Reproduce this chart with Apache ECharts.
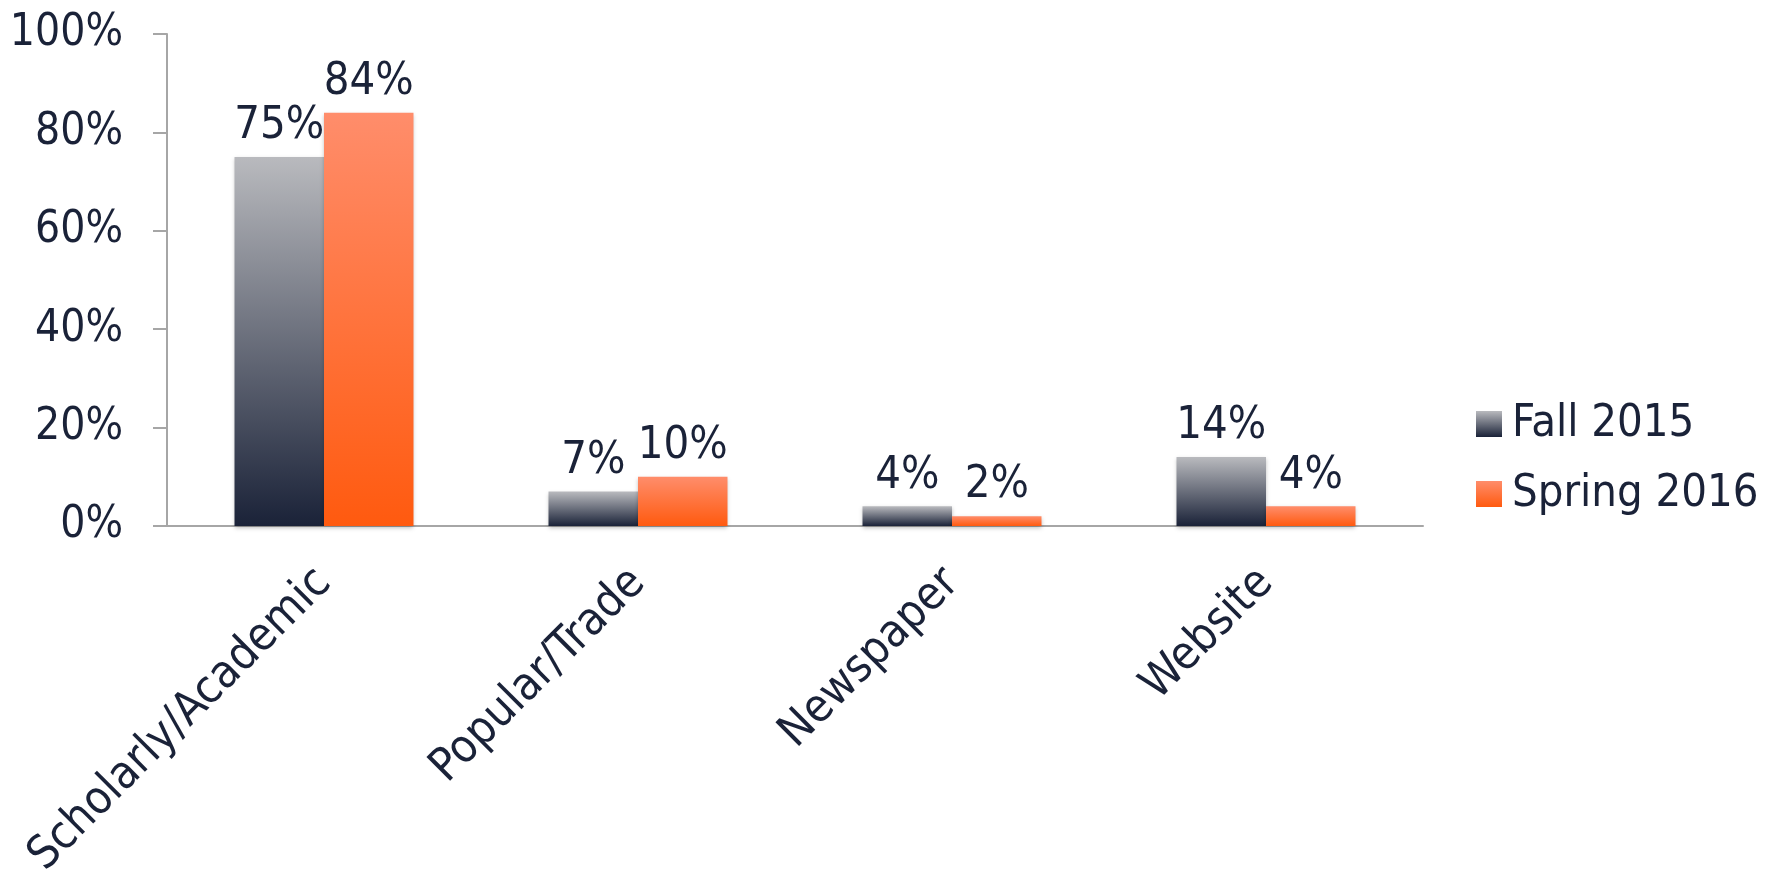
<!DOCTYPE html>
<html>
<head>
<meta charset="utf-8">
<script src="https://cdn.jsdelivr.net/npm/echarts@6/dist/echarts.min.js"></script>
<style>
html,body{margin:0;padding:0;background:#fff}
#chart{width:1776px;height:888px}
</style>
</head>
<body>
<div id="chart"></div>
<script>
//source types by semester
var categories = ['Scholarly/Academic', 'Popular/Trade', 'Newspaper', 'Website'];
var fall2015 = [75, 7, 4, 14];
var spring2016 = [84, 10, 2, 4];
var yTicks = [0, 20, 40, 60, 80, 100];

var txt = '#1a2238';
var font = '"Liberation Sans Narrow", "DejaVu Sans Condensed", sans-serif';

function grad(top, bottom) {
	return new echarts.graphic.LinearGradient(0, 0, 0, 1, [
		{ offset: 0, color: top },
		{ offset: 1, color: bottom }
	]);
}

var chart = echarts.init(document.getElementById('chart'));
var option = {
	animation: false,
	textStyle: { fontFamily: font, color: txt },
	grid: { left: 167, right: 353, top: 34, bottom: 362 },
	legend: {
		orient: 'vertical',
		left: 1471,
		top: 394,
		itemWidth: 26,
		itemHeight: 26,
		itemGap: 20,
		icon: 'rect',
		textStyle: { fontSize: 45, lineHeight: 50, color: txt, fontFamily: font, padding: [0, 0, 0, 5] },
		data: ['Fall 2015', 'Spring 2016']
	},
	xAxis: {
		type: 'category',
		data: categories,
		axisLine: { lineStyle: { color: '#a6a6a6', width: 2 } },
		axisTick: { length: 14, lineStyle: { color: '#a6a6a6', width: 2 } },
		axisLabel: { rotate: 45, margin: 50, fontSize: 46, color: txt, fontFamily: font, interval: 0 }
	},
	yAxis: {
		type: 'value',
		min: yTicks[0],
		max: yTicks[yTicks.length - 1],
		interval: 20,
		splitLine: { show: false },
		axisLine: { show: true, lineStyle: { color: '#a6a6a6', width: 2 } },
		axisTick: { show: true, length: 14, lineStyle: { color: '#a6a6a6', width: 2 } },
		axisLabel: { margin: 44, fontSize: 44, color: txt, fontFamily: font, formatter: '{value}%' }
	},
	series: [{
			name: 'Fall 2015',
			type: 'bar',
			data: fall2015,
			barGap: 0,
			barCategoryGap: '43%',
			itemStyle: { color: grad('#b9babe', '#1a2238'), shadowColor: 'rgba(0,0,0,0.25)', shadowBlur: 4, shadowOffsetY: 2 },
			label: { show: true, position: 'top', distance: 8, fontSize: 45, color: txt, fontFamily: font, formatter: '{c}%' }
		},
		{
			name: 'Spring 2016',
			type: 'bar',
			data: spring2016,
			itemStyle: { color: grad('#ff8d6b', '#ff5a0f'), shadowColor: 'rgba(0,0,0,0.25)', shadowBlur: 4, shadowOffsetY: 2 },
			label: { show: true, position: 'top', distance: 8, fontSize: 45, color: txt, fontFamily: font, formatter: '{c}%' }
		}
	]
};
chart.setOption(option);
</script>
</body>
</html>
